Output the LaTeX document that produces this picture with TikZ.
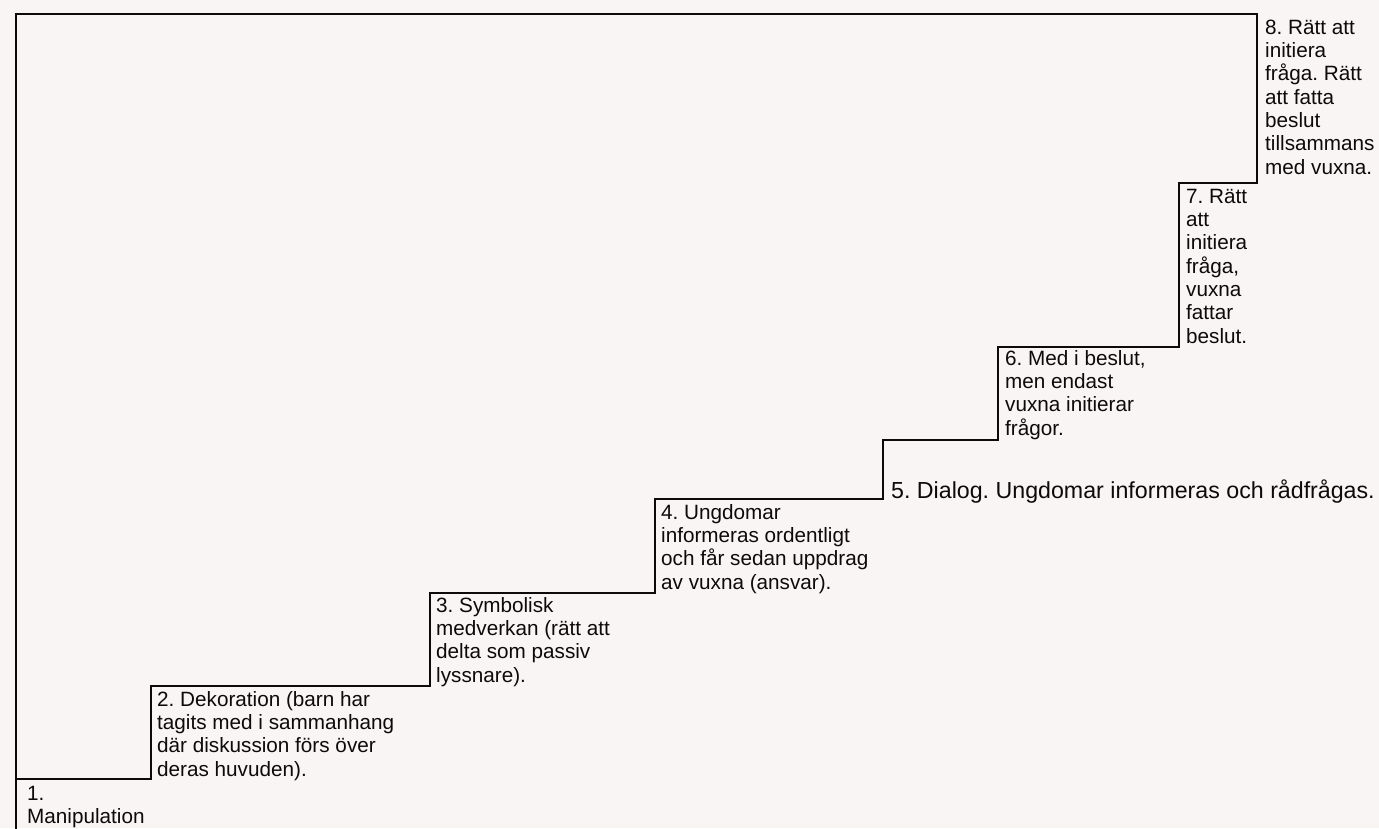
\documentclass[tikz,border=0pt]{standalone}
\usepackage{fontspec}
\setmainfont{Liberation Sans}
\definecolor{paper}{RGB}{250,245,245}
\definecolor{ink}{RGB}{12,10,10}
\frenchspacing
\begin{document}
\begin{tikzpicture}[x=1pt,y=-1pt,
  stair/.style={draw=ink, line width=2.6pt, line join=miter},
  lbl/.style={anchor=north west, inner sep=0pt, align=left, text=ink,
              font=\fontsize{20.7}{23.3}\selectfont},
  biglbl/.style={lbl, font=\fontsize{23.2}{25}\selectfont}
]
\fill[paper] (0,0) rectangle (1379,828);
\useasboundingbox (0,0) rectangle (1379,828);

% corners of the frame and the staircase
\coordinate (bot) at (16,832);
\coordinate (tl)  at (16,14);
\coordinate (tr)  at (1257,14);
\coordinate (s8)  at (1257,183);
\coordinate (s7a) at (1179,183);
\coordinate (s7b) at (1179,347);
\coordinate (s6a) at (998,347);
\coordinate (s6b) at (998,440);
\coordinate (s5a) at (883,440);
\coordinate (s5b) at (883,499);
\coordinate (s4a) at (655,499);
\coordinate (s4b) at (655,593);
\coordinate (s3a) at (430,593);
\coordinate (s3b) at (430,686);
\coordinate (s2a) at (151,686);
\coordinate (s2b) at (151,779);
\coordinate (s1)  at (16,779);

\draw[stair] (bot) -- (tl) -- (tr) -- (s8) -- (s7a) -- (s7b) -- (s6a) -- (s6b)
  -- (s5a) -- (s5b) -- (s4a) -- (s4b) -- (s3a) -- (s3b) -- (s2a) -- (s2b) -- (s1);

\node[lbl] (t1) at (27,784) {\rule{0pt}{16pt}1.\\Manipulation};
\node[lbl] (t2) at (157,690) {\rule{0pt}{16pt}2. Dekoration (barn har\\tagits med i sammanhang\\där diskussion förs över\\deras huvuden).};
\node[lbl] (t3) at (436,596) {\rule{0pt}{16pt}3. Symbolisk\\medverkan (rätt att\\delta som passiv\\lyssnare).};
\node[lbl] (t4) at (661,503) {\rule{0pt}{16pt}4. Ungdomar\\informeras ordentligt\\och får sedan uppdrag\\av vuxna (ansvar).};
\node[biglbl] (t5) at (891,480) {\rule{0pt}{18pt}5. Dialog. Ungdomar informeras och rådfrågas.};
\node[lbl] (t6) at (1005,349) {\rule{0pt}{16pt}6. Med i beslut,\\men endast\\vuxna initierar\\frågor.};
\node[lbl] (t7) at (1186,187) {\rule{0pt}{16pt}7. Rätt\\att\\initiera\\fråga,\\vuxna\\fattar\\beslut.};
\node[lbl] (t8) at (1265,18) {\rule{0pt}{16pt}8. Rätt att\\initiera\\fråga. Rätt\\att fatta\\beslut\\tillsammans\\med vuxna.};
\end{tikzpicture}
\end{document}
